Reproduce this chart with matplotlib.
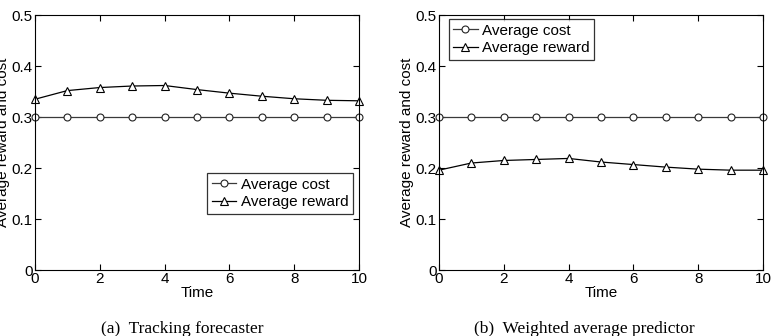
import matplotlib
matplotlib.use("Agg")
import matplotlib.pyplot as plt

plt.rcParams["font.family"] = ["Liberation Sans", "DejaVu Sans"]

# Dados
tempo = list(range(11))
custo_a = [0.300] * 11
recompensa_a = [0.335, 0.352, 0.358, 0.361, 0.362, 0.354, 0.347, 0.341, 0.336, 0.333, 0.332]
custo_b = [0.300] * 11
recompensa_b = [0.196, 0.210, 0.215, 0.217, 0.219, 0.212, 0.207, 0.202, 0.198, 0.196, 0.196]
legendas = ["Average cost", "Average reward"]
legendas_sub = ["(a)  Tracking forecaster", "(b)  Weighted average predictor"]


def _painel(ax, custo, recompensa, ancora):
    ax.plot(tempo, custo, "-o", color="#3a3a3a", lw=0.9, ms=5,
            mfc="white", mec="#222222", mew=0.8, label=legendas[0], clip_on=False)
    ax.plot(tempo, recompensa, "-^", color="black", lw=0.9, ms=6,
            mfc="white", mec="black", mew=0.8, label=legendas[1], clip_on=False)
    ax.set_xlim(0, 10)
    ax.set_ylim(0, 0.5)
    ax.set_xticks([0, 2, 4, 6, 8, 10])
    ax.set_yticks([0, 0.1, 0.2, 0.3, 0.4, 0.5])
    ax.set_yticklabels(["0", "0.1", "0.2", "0.3", "0.4", "0.5"])
    ax.tick_params(direction="in", top=True, right=True, length=4, labelsize=11, pad=1.5)
    ax.set_xlabel("Time", fontsize=11, labelpad=0)
    ax.set_ylabel("Average reward and cost", fontsize=11, labelpad=1)
    for s in ax.spines.values():
        s.set_linewidth(0.8)
    leg = ax.legend(loc=ancora[0], bbox_to_anchor=ancora[1], fontsize=11, frameon=True,
                    fancybox=False, edgecolor="black", handlelength=1.6, handletextpad=0.3,
                    borderpad=0.3, labelspacing=0.25, borderaxespad=0)
    leg.get_frame().set_linewidth(0.9)


fig = plt.figure(figsize=(7.74, 3.36), dpi=100)
ax1 = fig.add_axes([0.045, 0.196, 0.419, 0.759])
ax2 = fig.add_axes([0.567, 0.196, 0.419, 0.759])

_painel(ax1, custo_a, recompensa_a, ("lower left", (0.531, 0.22)))
_painel(ax2, custo_b, recompensa_b, ("upper left", (0.03, 0.985)))

fig.text(0.236, 0.008, legendas_sub[0], ha="center", fontsize=12.5,
         family=["Liberation Serif", "DejaVu Serif"])
fig.text(0.755, 0.008, legendas_sub[1], ha="center", fontsize=12.5,
         family=["Liberation Serif", "DejaVu Serif"])

fig.savefig("out.png", dpi=100)
plt.close(fig)
